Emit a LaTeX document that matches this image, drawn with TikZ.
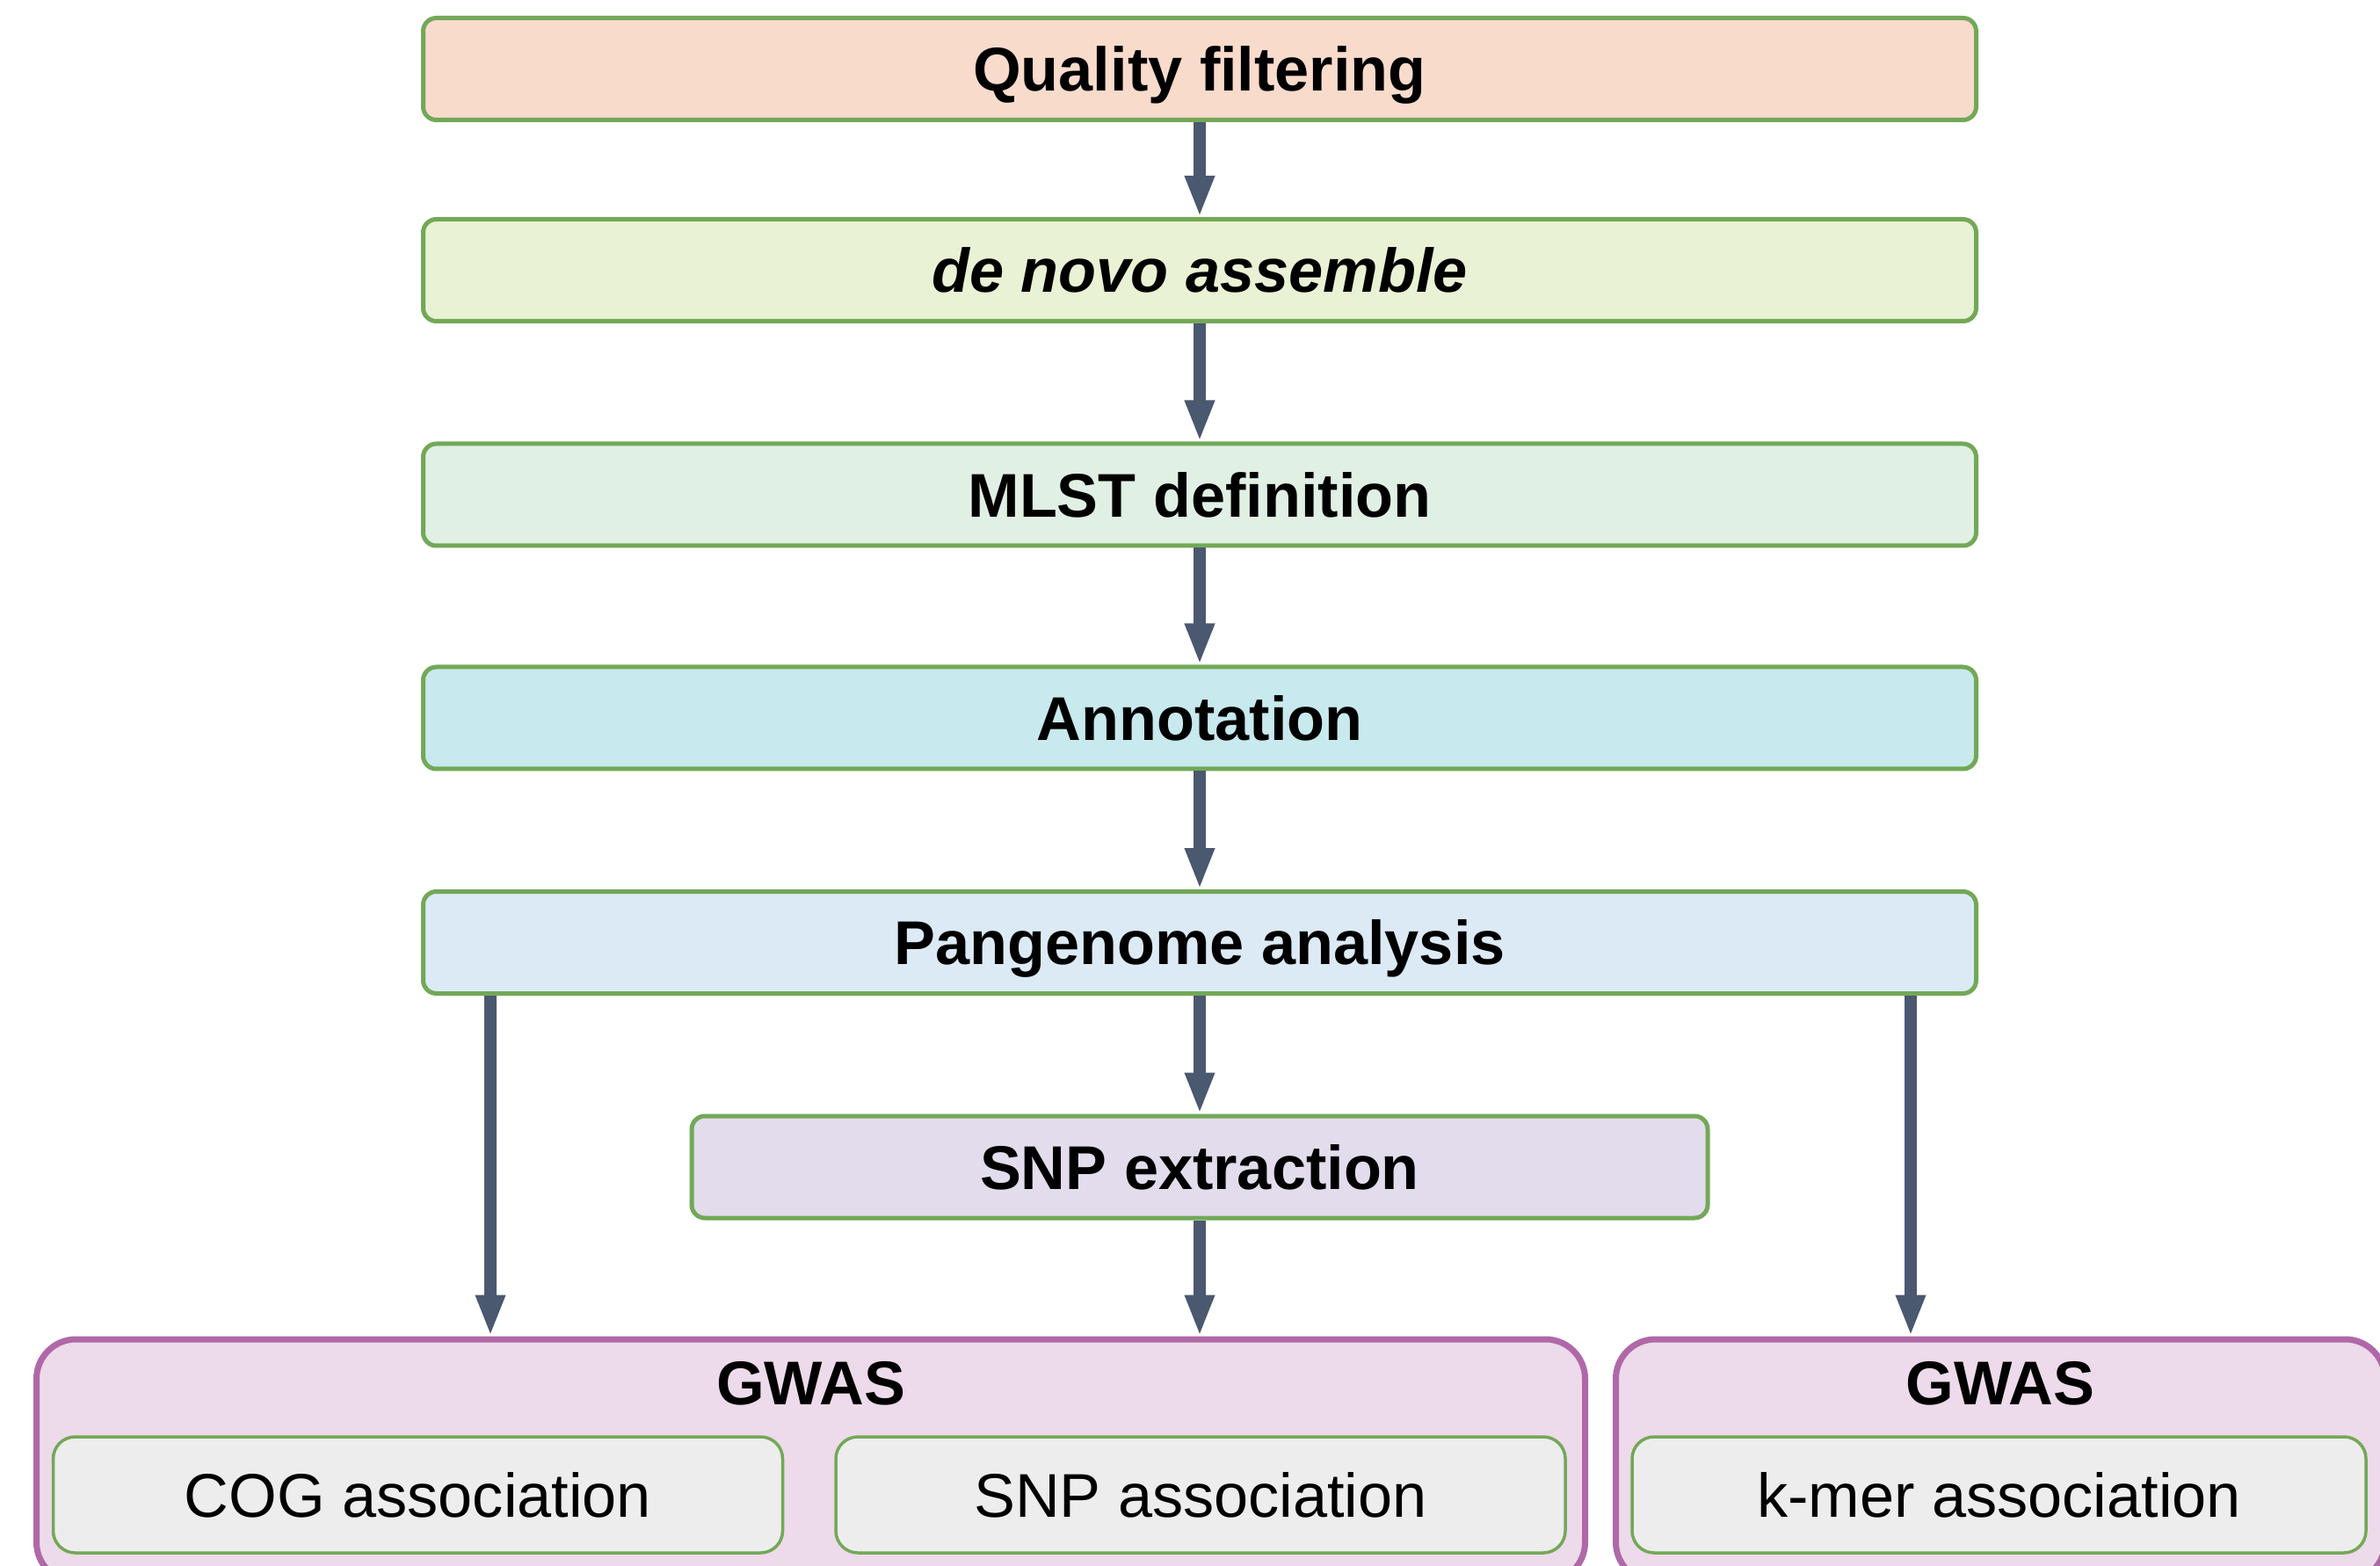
\documentclass[tikz,border=0pt]{standalone}
\usepackage{fontspec}
\setmainfont{Liberation Sans}
\usepackage{tikz}
\usetikzlibrary{arrows.meta,calc}
\definecolor{boxgreen}{HTML}{73A857}
\definecolor{gwasline}{HTML}{B068A8}
\definecolor{gwasfill}{HTML}{EDDAEA}
\definecolor{assocfill}{HTML}{EDEDED}
\definecolor{arrowgrey}{HTML}{4A5870}
\definecolor{qualfill}{HTML}{F8DBCB}
\definecolor{novofill}{HTML}{E9F2D4}
\definecolor{mlstfill}{HTML}{E0F0E4}
\definecolor{annofill}{HTML}{C8E9ED}
\definecolor{panfill}{HTML}{DCEAF6}
\definecolor{snpfill}{HTML}{E2DCEC}
\tikzset{
	stage/.style={draw=boxgreen, line width=0.05cm, rounded corners=0.15cm, minimum width=17.67cm, minimum height=1.16cm, inner sep=0pt, text height=14.5pt, text depth=0pt, font=\fontsize{20}{24}\selectfont\bfseries},
	flow/.style={draw=arrowgrey, line width=0.14cm, -{Triangle[length=0.47cm,width=0.31cm]}}
}
\tikzstyle{gwasbox}=[draw=gwasline, fill=gwasfill, line width=0.07cm, rounded corners=0.45cm, minimum height=2.76cm, inner sep=0pt]
\tikzstyle{assoc}=[draw=boxgreen, fill=assocfill, line width=0.035cm, rounded corners=0.25cm, minimum width=8.3cm, minimum height=1.32cm, inner sep=0pt, font=\fontsize{20}{24}\selectfont]
\tikzstyle{gwastitle}=[inner sep=0pt, font=\fontsize{20}{24}\selectfont\bfseries]

\begin{document}
\begin{tikzpicture}
	\useasboundingbox (0,0) rectangle (27.08,-17.82);
	\clip (0,0) rectangle (27.08,-17.82);
	\node[stage, fill=qualfill] (qual) at (13.65,-0.785) {Quality filtering};
	\node[stage, fill=novofill] (novo) at (13.65,-3.075) {\textit{de novo assemble}};
	\node[stage, fill=mlstfill] (mlst) at (13.65,-5.63) {MLST definition};
	\node[stage, fill=annofill] (anno) at (13.65,-8.17) {Annotation};
	\node[stage, fill=panfill] (pan) at (13.65,-10.725) {Pangenome analysis};
	\node[stage, fill=snpfill, minimum width=11.56cm] (snp) at (13.65,-13.28) {SNP extraction};
	\node[gwasbox, minimum width=17.62cm] (gwasL) at (9.225,-16.62) {};
	\node[gwasbox, minimum width=8.75cm] (gwasR) at (22.76,-16.62) {};
	\node[gwastitle] (gwasLt) at ($(gwasL.north)+(0,-0.54)$) {GWAS};
	\node[gwastitle] (gwasRt) at ($(gwasR.north)+(0,-0.54)$) {GWAS};
	\node[assoc] (cog) at (4.755,-17.01) {COG association};
	\node[assoc] (snpa) at (13.66,-17.01) {SNP association};
	\node[assoc, minimum width=8.35cm] (kmer) at (22.745,-17.01) {k-mer association};
	\draw[flow] (qual.south) -- (novo.north);
	\draw[flow] (novo.south) -- (mlst.north);
	\draw[flow] (mlst.south) -- (anno.north);
	\draw[flow] (anno.south) -- (pan.north);
	\draw[flow] (pan.south) -- (snp.north);
	\draw[flow] (snp.south) -- (snp.south |- gwasL.north);
	\draw[flow] ([xshift=0.79cm]pan.south west) -- ([xshift=0.79cm]pan.south west |- gwasL.north);
	\draw[flow] ([xshift=-0.77cm]pan.south east) -- ([xshift=-0.77cm]pan.south east |- gwasR.north);
\end{tikzpicture}
\end{document}
